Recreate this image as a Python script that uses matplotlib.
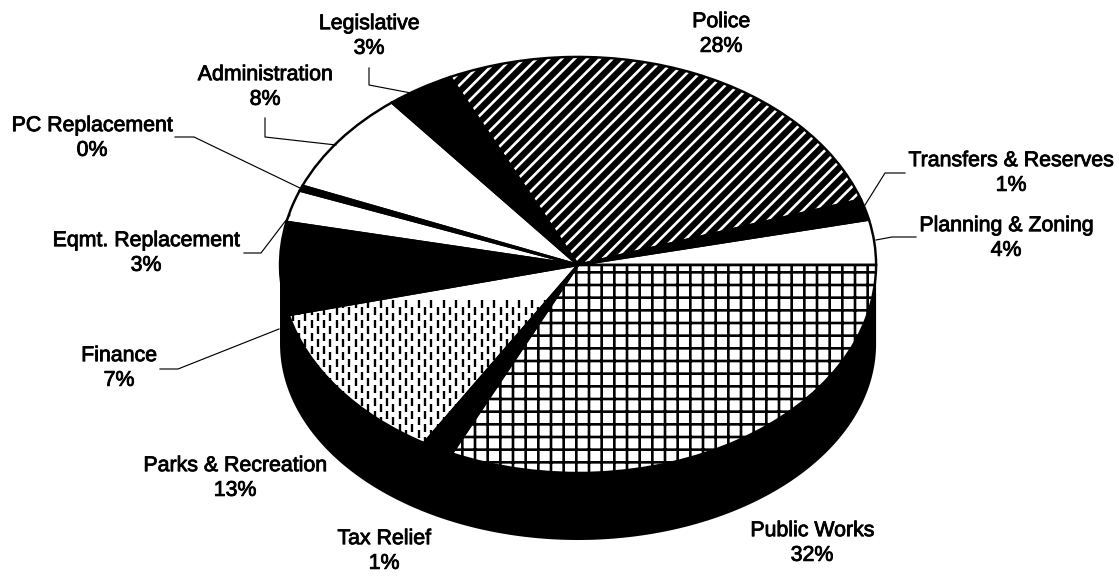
import numpy as np
import matplotlib
matplotlib.use('Agg')
import matplotlib.pyplot as plt
import matplotlib.patheffects as pe
from matplotlib.transforms import Affine2D

# slices counter-clockwise starting from 3 o'clock
departments = ['Planning & Zoning', 'Transfers & Reserves', 'Police', 'Legislative',
               'Administration', 'PC Replacement', 'Eqmt. Replacement', 'Finance',
               'Parks & Recreation', 'Tax Relief', 'Public Works']
shares = [3.5, 1.6, 27.0, 3.7, 8.05, 0.4, 2.5, 7.2, 12.5, 1.7, 32.0]
share_labels = ['4%', '1%', '28%', '3%', '8%', '0%', '3%', '7%', '13%', '1%', '32%']

label_x = [1006, 1011, 721, 369, 265, 92, 146, 119, 235, 384, 812]
label_y = [238, 173, 34, 36, 87, 138, 253, 368, 478, 551, 543]

leaders = [
    [(876, 240), (892, 237), (916, 237)],
    [(865, 205), (885, 173), (905, 173)],
    [(369, 68), (369, 85), (411, 93)],
    [(265, 118), (265, 137), (336, 145)],
    [(175, 137), (194, 137), (302, 189)],
    [(244, 253), (261, 253), (290, 215)],
    [(160, 369), (178, 369), (279, 329)],
]

W, H = 1119, 576
CX, CY, RX, RY = 578, 265, 298, 208
DEPTH, WALL_RY = 79, 196
DPI = 76

plt.rcParams['font.family'] = ['Liberation Sans', 'DejaVu Sans']
plt.rcParams['hatch.linewidth'] = 2.5

fig = plt.figure(figsize=((W + 0.1) / DPI, (H + 0.1) / DPI), dpi=DPI)
ax = fig.add_axes([0, 0, 1, 1])
pix = Affine2D().scale(1, -1).translate(0, H)

# side wall of the disc
t = np.radians(np.linspace(180, 360, 200))
wall_x = np.concatenate([np.cos(t), np.cos(t)[::-1]])
wall_y = np.concatenate([np.sin(t) * WALL_RY / RY - DEPTH / RY, np.sin(t)[::-1]])
ax.fill(wall_x, wall_y, color='black', lw=0, zorder=1)

fills = ['white', 'black', 'black', 'black', 'white', 'black', 'white', 'black',
         'white', 'black', 'white']
wedges, _ = ax.pie(shares, startangle=0, counterclock=True, colors=fills,
                   wedgeprops={'linewidth': 0, 'zorder': 2})

# police: white stripes on black, public works: black grid on white
wedges[2].set_edgecolor('white')
wedges[2].set_hatch('//')
wedges[10].set_edgecolor('black')
wedges[10].set_hatch('+')

outlines, _ = ax.pie(shares, startangle=0, counterclock=True,
                     colors=['none'] * len(shares),
                     wedgeprops={'linewidth': 2.3, 'edgecolor': 'black', 'zorder': 4})

# parks & recreation: staggered short dashes
for i, x in enumerate(np.arange(280, 600, 6.3)):
    tops = np.arange(300 + (i % 2) * 6.5, 470, 13)
    dashes = ax.vlines(np.full(len(tops), x), tops, tops + 8, colors='black',
                       linewidth=2.2, transform=pix, zorder=3)
    dashes.set_clip_path(wedges[8])

ax.set_aspect('auto')
ax.set_xlim(-CX / RX, (W - CX) / RX)
ax.set_ylim((CY - H) / RY, CY / RY)
ax.axis('off')

for points in leaders:
    xs, ys = zip(*points)
    ax.plot(xs, ys, color='black', lw=1.1, transform=pix, zorder=5, clip_on=False)

for name, pct, x, y in zip(departments, share_labels, label_x, label_y):
    ax.text(x, y, name + '\n' + pct, transform=pix, ha='center', va='center',
            fontsize=20.2, linespacing=1.38, color='black', zorder=6,
            path_effects=[pe.withStroke(linewidth=0.8, foreground='black')])

fig.savefig('out.png', dpi=DPI, facecolor='white')
